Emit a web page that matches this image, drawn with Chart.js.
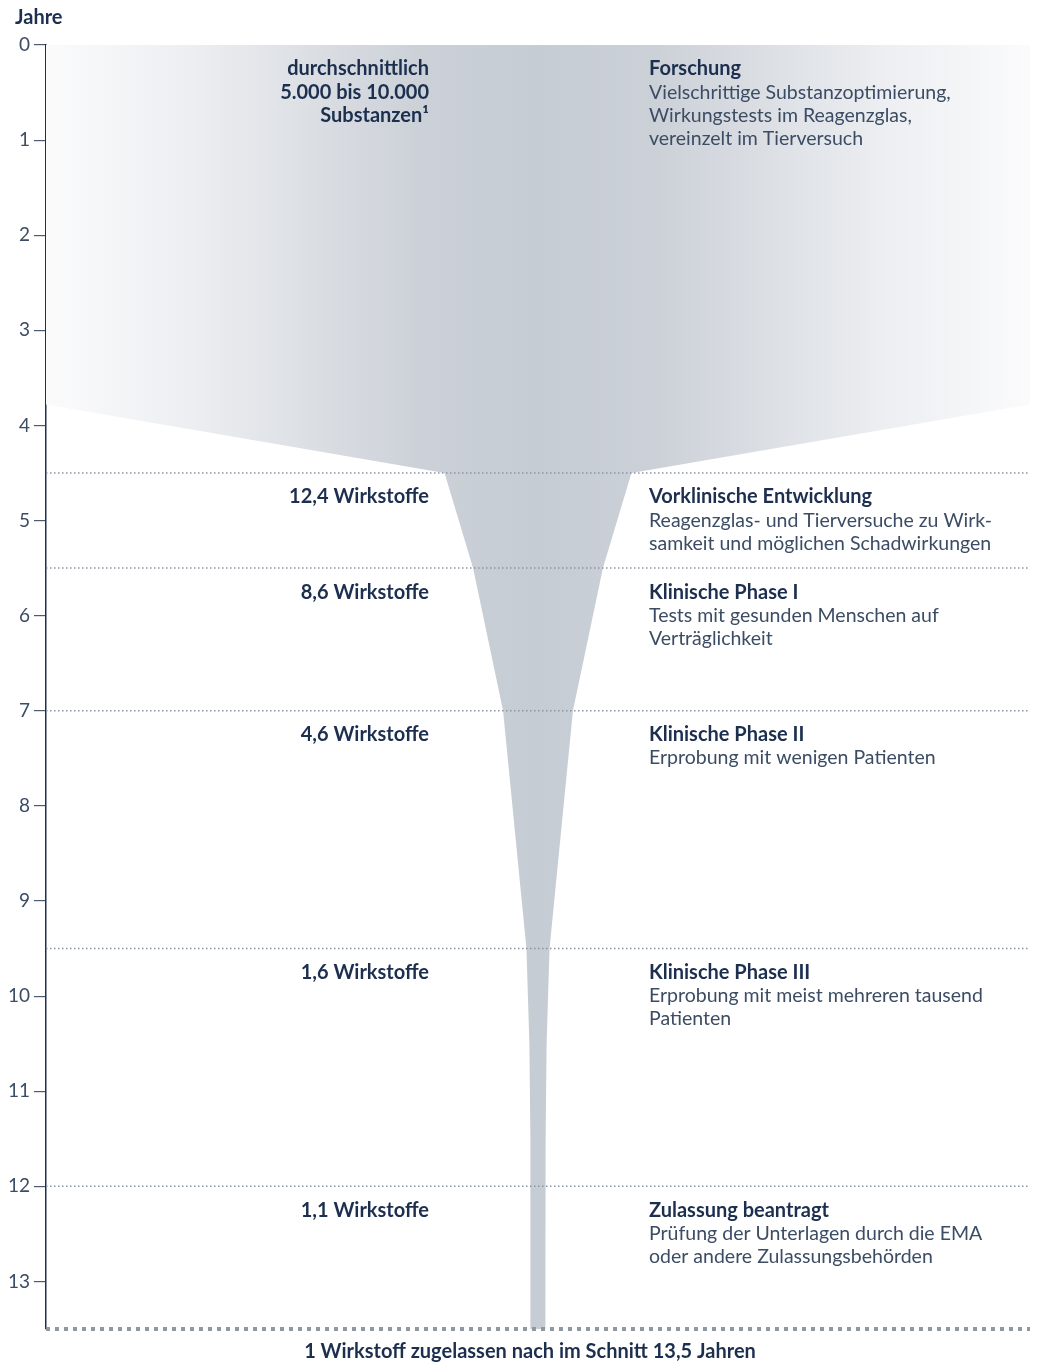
<!DOCTYPE html>
<html>
<head>
<meta charset="utf-8">
<script src="https://cdn.jsdelivr.net/npm/chart.js@4"></script>
<style>
  body { margin: 0; background: #fff; }
  #wrap { width: 1038px; height: 1362px; }
</style>
</head>
<body>
<div id="wrap"><canvas id="funnel"></canvas></div>
<script>
// years at which each phase starts, and the end
const phaseStarts = [0, 4.5, 5.5, 7, 9.5, 12];
const phaseEnd = 13.5;

// left side: number of candidates per phase
const candidateLabels = [
  ['durchschnittlich', '5.000 bis 10.000', 'Substanzen¹'],
  ['12,4 Wirkstoffe'],
  ['8,6 Wirkstoffe'],
  ['4,6 Wirkstoffe'],
  ['1,6 Wirkstoffe'],
  ['1,1 Wirkstoffe']
];

// right side: phase names and descriptions
const phaseTitles = ['Forschung', 'Vorklinische Entwicklung', 'Klinische Phase I',
  'Klinische Phase II', 'Klinische Phase III', 'Zulassung beantragt'];
const phaseTexts = [
  ['Vielschrittige Substanzoptimierung,', 'Wirkungstests im Reagenzglas,', 'vereinzelt im Tierversuch'],
  ['Reagenzglas- und Tierversuche zu Wirk-', 'samkeit und möglichen Schadwirkungen'],
  ['Tests mit gesunden Menschen auf', 'Verträglichkeit'],
  ['Erprobung mit wenigen Patienten'],
  ['Erprobung mit meist mehreren tausend', 'Patienten'],
  ['Prüfung der Unterlagen durch die EMA', 'oder andere Zulassungsbehörden']
];
const bottomLabel = '1 Wirkstoff zugelassen nach im Schnitt 13,5 Jahren';

// funnel outline: half width (0..100 = full chart width) per year
const funnelYears = [0, 3.78, 4.5, 5.5, 7, 9.5, 10.5, 11.5, 13.5];
const funnelHalfWidth = [100, 100, 19.0, 13.2, 7.1, 2.35, 1.75, 1.55, 1.5];

const navy = '#1c2f4f';
const grey = '#3c4c64';
const lineGrey = '#8b94a1';
const fontName = 'Lato, "Noto Sans", sans-serif';

function funnelFill(context) {
  const area = context.chart.chartArea;
  if (!area) return '#c7ccd4';
  const g = context.chart.ctx.createLinearGradient(area.left, 0, area.right, 0);
  g.addColorStop(0, '#fbfbfc');
  g.addColorStop(0.15, '#eceef1');
  g.addColorStop(0.38, '#ccd1d8');
  g.addColorStop(0.5, '#c6ccd4');
  g.addColorStop(0.62, '#ccd1d8');
  g.addColorStop(0.85, '#eceef1');
  g.addColorStop(1, '#fbfbfc');
  return g;
}

const leftEdge = funnelYears.map((y, i) => ({ x: -funnelHalfWidth[i], y: y }));
const rightEdge = funnelYears.map((y, i) => ({ x: funnelHalfWidth[i], y: y }));

const datasets = [
  { data: leftEdge, borderWidth: 0, pointRadius: 0, fill: false, order: 10 },
  { data: rightEdge, borderWidth: 0, pointRadius: 0, fill: '-1', backgroundColor: funnelFill, order: 10 }
];
phaseStarts.slice(1).forEach(y => {
  datasets.push({
    data: [{ x: -100, y: y }, { x: 100, y: y }],
    borderColor: lineGrey, borderWidth: 1.5, borderDash: [1.5, 2.5],
    pointRadius: 0, fill: false, order: 0
  });
});
datasets.push({
  data: [{ x: -100, y: phaseEnd }, { x: 100, y: phaseEnd }],
  borderColor: '#8f97a3', borderWidth: 4, borderDash: [4, 5],
  pointRadius: 0, fill: false, order: 0, clip: false
});

const labelsPlugin = {
  id: 'labels',
  afterDraw(chart) {
    const ctx = chart.ctx;
    const ys = chart.scales.y;
    const step = 23.3;
    const bold = 'bold 20px ' + fontName;
    ctx.save();
    ctx.textBaseline = 'middle';

    ctx.fillStyle = navy;
    ctx.font = bold;
    ctx.textAlign = 'left';
    ctx.fillText('Jahre', 15, 18);

    phaseStarts.forEach((start, i) => {
      const top = ys.getPixelForValue(start) + 24;
      ctx.fillStyle = navy;
      ctx.font = bold;
      ctx.textAlign = 'right';
      candidateLabels[i].forEach((t, k) => ctx.fillText(t, 429, top + k * step));

      ctx.textAlign = 'left';
      ctx.fillText(phaseTitles[i], 649, top);
      ctx.fillStyle = grey;
      ctx.font = '19.5px ' + fontName;
      phaseTexts[i].forEach((t, k) => ctx.fillText(t, 649, top + (k + 1) * step));
    });

    ctx.fillStyle = navy;
    ctx.font = bold;
    ctx.textAlign = 'center';
    ctx.fillText(bottomLabel, 530, ys.getPixelForValue(phaseEnd) + 23);
    ctx.restore();
  }
};

new Chart(document.getElementById('funnel'), {
  type: 'line',
  data: { datasets: datasets },
  options: {
    indexAxis: 'y',
    responsive: true,
    maintainAspectRatio: false,
    animation: false,
    layout: { padding: { top: 45, right: 8, bottom: 33, left: 0 } },
    plugins: { legend: { display: false }, tooltip: { enabled: false } },
    scales: {
      x: { type: 'linear', min: -100, max: 100, display: false },
      y: {
        type: 'linear',
        min: 0,
        max: phaseEnd,
        reverse: true,
        afterFit(scale) { scale.width = 46; },
        border: { display: true, color: navy, width: 1.5 },
        grid: { drawOnChartArea: false, tickLength: 12, color: '#4a5a70', lineWidth: 1.2 },
        ticks: {
          stepSize: 1,
          includeBounds: false,
          padding: 4,
          color: grey,
          font: { family: fontName, size: 19 }
        }
      }
    }
  },
  plugins: [labelsPlugin]
});
</script>
</body>
</html>
